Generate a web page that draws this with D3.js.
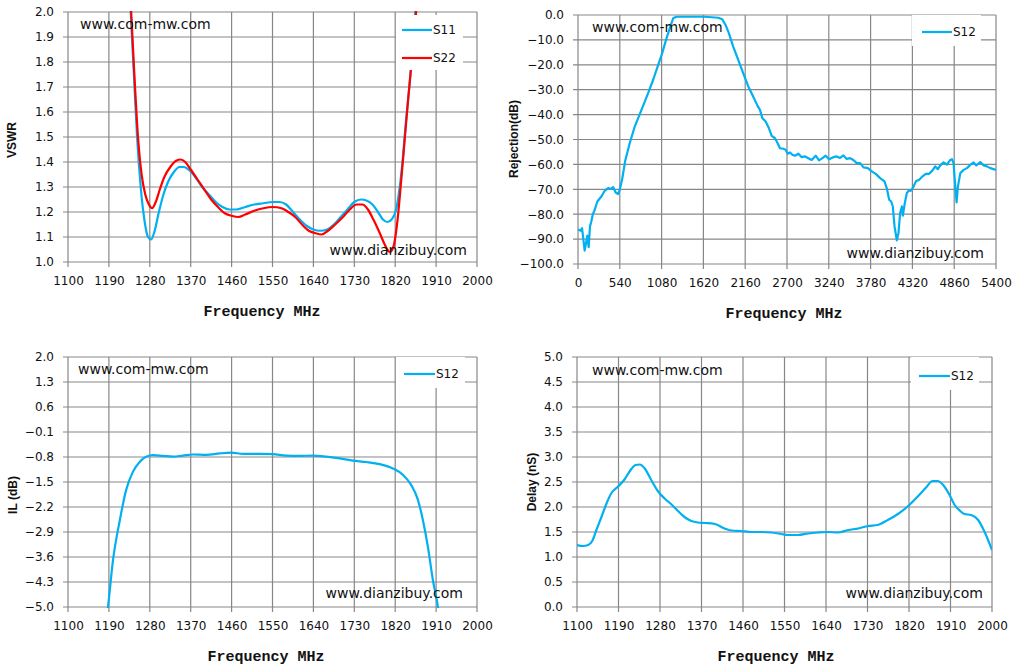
<!DOCTYPE html>
<html>
  <head>
    <meta charset="utf-8">
    <script src="https://d3js.org/d3.v7.min.js"></script>
    <title>Filter response</title>
    <style>
      body { margin: 0; background: #fff; }
      .tick text { font-family: "DejaVu Sans", sans-serif; font-size: 12px; fill: #111; }
      .grid line { stroke: #878787; stroke-width: 1.2; }
      .mark { font-family: "DejaVu Sans", sans-serif; font-size: 14px; fill: #111; }
      .ytitle { font-family: "Liberation Sans", Arial, sans-serif; font-size: 12px; font-weight: bold; fill: #111; }
      .xtitle { font-family: "Liberation Mono", monospace; font-size: 15px; font-weight: bold; fill: #111; }
      .leg { font-family: "DejaVu Sans", sans-serif; font-size: 12px; fill: #111; }
    </style>
  </head>
  <body>
    <div id="chart"></div>
    <script>
      // ---- data ----
      const bandTicks = [1100, 1190, 1280, 1370, 1460, 1550, 1640, 1730, 1820, 1910, 2000];
      const wideTicks = [0, 540, 1080, 1620, 2160, 2700, 3240, 3780, 4320, 4860, 5400];
      const vswrTicks = [1.0, 1.1, 1.2, 1.3, 1.4, 1.5, 1.6, 1.7, 1.8, 1.9, 2.0];
      const rejTicks = [0, -10, -20, -30, -40, -50, -60, -70, -80, -90, -100];
      const ilTicks = [2.0, 1.3, 0.6, -0.1, -0.8, -1.5, -2.2, -2.9, -3.6, -4.3, -5.0];
      const delayTicks = [0, 0.5, 1.0, 1.5, 2.0, 2.5, 3.0, 3.5, 4.0, 4.5, 5.0];

      // VSWR, S11
      const s11Freq = [1232, 1238, 1245, 1252, 1260, 1268, 1276, 1283, 1290, 1300, 1310, 1320, 1333, 1345, 1355, 1365,
        1380, 1395, 1410, 1425, 1440, 1455, 1470, 1490, 1510, 1530, 1550, 1565, 1580, 1595, 1610, 1625, 1640, 1655,
        1670, 1685, 1700, 1715, 1730, 1745, 1758, 1770, 1782, 1793, 1803, 1812, 1822, 1830, 1837, 1843, 1850, 1857,
        1864, 1870];
      const s11Vswr = [2.2, 2.0, 1.75, 1.5, 1.3, 1.17, 1.10, 1.09, 1.12, 1.20, 1.27, 1.32, 1.36, 1.38, 1.38, 1.37,
        1.34, 1.30, 1.27, 1.24, 1.22, 1.21, 1.21, 1.22, 1.23, 1.235, 1.24, 1.24, 1.23, 1.20, 1.17, 1.145, 1.13, 1.125,
        1.13, 1.15, 1.18, 1.21, 1.24, 1.25, 1.245, 1.23, 1.20, 1.17, 1.16, 1.17, 1.21, 1.30, 1.42, 1.55, 1.68, 1.82,
        2.0, 2.2];
      // VSWR, S22
      const s22Freq = [1234, 1239, 1246, 1254, 1262, 1270, 1278, 1285, 1293, 1302, 1312, 1325, 1338, 1348, 1358, 1370,
        1385, 1400, 1415, 1430, 1445, 1460, 1475, 1490, 1510, 1530, 1550, 1570, 1585, 1600, 1615, 1630, 1645, 1658,
        1672, 1688, 1705, 1720, 1735, 1748, 1760, 1772, 1785, 1797, 1808, 1816, 1824, 1832, 1840, 1848, 1856, 1866,
        1872];
      const s22Vswr = [2.2, 2.0, 1.75, 1.5, 1.35, 1.27, 1.23, 1.215, 1.24, 1.29, 1.34, 1.38, 1.405, 1.41, 1.40, 1.37,
        1.33, 1.29, 1.25, 1.22, 1.195, 1.185, 1.18, 1.19, 1.205, 1.215, 1.22, 1.215, 1.20, 1.18, 1.15, 1.125, 1.115, 1.11,
        1.125, 1.15, 1.18, 1.21, 1.23, 1.23, 1.21, 1.17, 1.12, 1.07, 1.04, 1.06, 1.15, 1.30, 1.47, 1.64, 1.80, 2.0,
        2.2];

      // Rejection, wide span
      const rejFreq = [0, 35, 52, 69, 86, 104, 121, 138, 155, 172, 190, 216, 250, 302, 345, 388, 431, 453, 487, 518,
        539, 569, 612, 668, 733, 820, 906, 970, 1035, 1087, 1143, 1186, 1229, 1272, 1380, 1639, 1811, 1863, 1906,
        1950, 2005, 2070, 2135, 2200, 2264, 2320, 2351, 2381, 2424, 2467, 2502, 2545, 2579, 2609, 2652, 2683, 2709,
        2739, 2769, 2803, 2847, 2890, 2933, 2976, 3019, 3071, 3114, 3157, 3200, 3243, 3299, 3343, 3386, 3429, 3472,
        3515, 3558, 3601, 3645, 3688, 3744, 3795, 3847, 3903, 3959, 3989, 4020, 4045, 4067, 4089, 4119, 4140, 4162,
        4184, 4197, 4218, 4248, 4270, 4304, 4335, 4365, 4408, 4451, 4494, 4537, 4580, 4615, 4649, 4680, 4723, 4766,
        4809, 4831, 4852, 4874, 4891, 4908, 4939, 4982, 5025, 5068, 5111, 5146, 5197, 5240, 5283, 5326, 5400];
      const rejDb = [-86.2, -86.6, -85.6, -90, -94.6, -91.6, -88.6, -93.2, -84.9, -82.9, -80.2, -78.2, -74.9, -72.9,
        -70.6, -69.5, -69.9, -69.1, -71.3, -71.9, -70.2, -66.2, -58.2, -51.5, -44.8, -38.1, -31.4, -26.1, -20.1, -15.4,
        -9.4, -5.3, -1.3, -0.7, -0.7, -0.7, -1.1, -1.7, -4.0, -7.4, -12.7, -18, -23.4, -28.7, -32.8, -36.5, -38.1,
        -41.4, -42.8, -45.5, -48.5, -49.5, -51.5, -53.5, -53.7, -54.1, -55.7, -55.2, -56.1, -56.5, -55.7, -57.1,
        -56.8, -57.5, -58.2, -56.5, -58.4, -57.5, -56.5, -57.9, -57.1, -56.8, -57.4, -56.4, -57.8, -57.5, -58.2,
        -59.5, -59.5, -61.2, -61.5, -62.8, -63.8, -65.5, -66.8, -69.5, -74.2, -74.9, -76.9, -84.9, -90.5, -87.6,
        -79.4, -76.9, -80.6, -76.2, -71.5, -70.6, -70.5, -68.9, -66.8, -66.2, -64.8, -63.8, -63.8, -62.4, -60.8,
        -61.9, -60.4, -59.2, -60.1, -58.2, -57.9, -59.5, -68.9, -75.3, -68.9, -63.5, -62.2, -61.5, -60.2, -59.2,
        -60.4, -59.1, -60.4, -60.8, -61.5, -62.2];

      // Insertion loss
      const ilFreq = [1185, 1188, 1199, 1214, 1228, 1243, 1258, 1272, 1287, 1309, 1331, 1353, 1375, 1404, 1434, 1459,
        1485, 1522, 1551, 1580, 1610, 1639, 1668, 1698, 1727, 1756, 1786, 1815, 1837, 1855, 1870, 1881, 1892, 1903,
        1914, 1917];
      const ilDb = [-5.3, -5.0, -3.69, -2.57, -1.72, -1.21, -0.93, -0.79, -0.75, -0.77, -0.79, -0.76, -0.73, -0.74,
        -0.70, -0.68, -0.71, -0.71, -0.72, -0.76, -0.77, -0.76, -0.79, -0.84, -0.90, -0.94, -1.0, -1.12, -1.30, -1.58,
        -2.0, -2.57, -3.32, -4.25, -5.0, -5.3];

      // Group delay
      const delayFreq = [1100, 1113, 1124, 1133, 1142, 1153, 1164, 1174, 1189, 1203, 1214, 1227, 1236, 1247, 1261,
        1276, 1290, 1305, 1319, 1333, 1348, 1362, 1377, 1399, 1420, 1435, 1456, 1478, 1500, 1521, 1543, 1557, 1579,
        1601, 1623, 1644, 1666, 1688, 1710, 1731, 1752, 1774, 1796, 1817, 1839, 1857, 1871, 1882, 1895, 1908, 1919,
        1930, 1940, 1955, 1970, 1984, 2000];
      const delayNs = [1.24, 1.22, 1.24, 1.32, 1.54, 1.80, 2.07, 2.27, 2.41, 2.55, 2.71, 2.84, 2.85, 2.77, 2.54, 2.31,
        2.17, 2.05, 1.92, 1.80, 1.72, 1.69, 1.68, 1.66, 1.57, 1.53, 1.52, 1.50, 1.50, 1.49, 1.46, 1.44, 1.44, 1.47,
        1.49, 1.50, 1.49, 1.54, 1.57, 1.62, 1.64, 1.74, 1.86, 2.01, 2.21, 2.39, 2.52, 2.52, 2.43, 2.24, 2.04, 1.93,
        1.86, 1.84, 1.74, 1.50, 1.14];

      const BLUE = "#00b0f0";
      const RED = "#ff0000";

      const svg = d3.select("#chart").append("svg")
        .attr("width", 1018)
        .attr("height", 672);

      const panels = [
        {
          box: { l: 68, r: 477, t: 12, b: 262 },
          xDomain: [1100, 2000], xTicks: bandTicks,
          yDomain: [1.0, 2.0], yTicks: vswrTicks, yFmt: d3.format(".1f"),
          yTitle: "VSWR", yTitleAt: [12, 140], xTitleX: 262,
          series: [
            { name: "S11", x: s11Freq, y: s11Vswr, color: BLUE, curve: d3.curveMonotoneX },
            { name: "S22", x: s22Freq, y: s22Vswr, color: RED, curve: d3.curveMonotoneX }
          ],
          legend: { l: 396, r: 463, t: 15, b: 70, x1: 402, x2: 432, rows: [30, 58] },
          marks: { top: [80, 24], bottom: [467, 250] }
        },
        {
          box: { l: 578, r: 996, t: 15, b: 264 },
          xDomain: [0, 5400], xTicks: wideTicks,
          yDomain: [-100, 0], yTicks: rejTicks, yFmt: d3.format(".1f"),
          yTitle: "Rejection(dB)", yTitleAt: [514, 139], xTitleX: 784,
          series: [
            { name: "S12", x: rejFreq, y: rejDb, color: BLUE, curve: d3.curveLinear }
          ],
          legend: { l: 912, r: 981, t: 15, b: 46, x1: 922, x2: 952, rows: [32] },
          marks: { top: [592, 27], bottom: [984, 253] }
        },
        {
          box: { l: 68, r: 477, t: 357, b: 607 },
          xDomain: [1100, 2000], xTicks: bandTicks,
          yDomain: [-5.0, 2.0], yTicks: ilTicks, yFmt: d3.format(".1f"),
          yTitle: "IL (dB)", yTitleAt: [13, 495], xTitleX: 266,
          series: [
            { name: "S12", x: ilFreq, y: ilDb, color: BLUE, curve: d3.curveMonotoneX }
          ],
          legend: { l: 396, r: 465, t: 357, b: 388, x1: 404, x2: 435, rows: [374] },
          marks: { top: [78, 369], bottom: [463, 593] }
        },
        {
          box: { l: 577, r: 992, t: 357, b: 607 },
          xDomain: [1100, 2000], xTicks: bandTicks,
          yDomain: [0, 5.0], yTicks: delayTicks, yFmt: d3.format(".1f"),
          yTitle: "Delay (nS)", yTitleAt: [532, 482], xTitleX: 776,
          series: [
            { name: "S12", x: delayFreq, y: delayNs, color: BLUE, curve: d3.curveMonotoneX }
          ],
          legend: { l: 911, r: 979, t: 357, b: 390, x1: 919, x2: 950, rows: [376] },
          marks: { top: [592, 370], bottom: [983, 593] }
        }
      ];

      panels.forEach((p, i) => {
        const b = p.box;
        const x = d3.scaleLinear().domain(p.xDomain).range([b.l, b.r]);
        const y = d3.scaleLinear().domain(p.yDomain).range([b.b, b.t]);
        const g = svg.append("g");

        // grid
        const grid = g.append("g").attr("class", "grid");
        grid.selectAll(".v").data(p.xTicks).join("line")
          .attr("x1", (d) => x(d)).attr("x2", (d) => x(d))
          .attr("y1", b.t).attr("y2", b.b + 5);
        grid.selectAll(".h").data(p.yTicks).join("line")
          .attr("x1", b.l - 5).attr("x2", b.r)
          .attr("y1", (d) => y(d)).attr("y2", (d) => y(d));

        // tick labels via axes (no domain, no tick lines)
        const ax = g.append("g")
          .attr("transform", `translate(0,${b.b})`)
          .call(d3.axisBottom(x).tickValues(p.xTicks).tickFormat(d3.format("d")).tickSize(0).tickPadding(14));
        ax.select(".domain").remove();
        const ay = g.append("g")
          .attr("transform", `translate(${b.l},0)`)
          .call(d3.axisLeft(y).tickValues(p.yTicks).tickFormat(p.yFmt).tickSize(0).tickPadding(14));
        ay.select(".domain").remove();

        // curves
        const clipId = "clip" + i;
        g.append("clipPath").attr("id", clipId).append("rect")
          .attr("x", b.l).attr("y", b.t - 1)
          .attr("width", b.r - b.l).attr("height", b.b - b.t + 2);
        const plot = g.append("g").attr("clip-path", `url(#${clipId})`);
        p.series.forEach((s) => {
          const pts = s.x.map((f, k) => [f, s.y[k]]);
          plot.append("path")
            .datum(pts)
            .attr("fill", "none")
            .attr("stroke", s.color)
            .attr("stroke-width", 2.2)
            .attr("stroke-linejoin", "round")
            .attr("d", d3.line().curve(s.curve).x((d) => x(d[0])).y((d) => y(d[1])));
        });

        // legend
        const lg = p.legend;
        g.append("rect")
          .attr("x", lg.l).attr("y", lg.t)
          .attr("width", lg.r - lg.l).attr("height", lg.b - lg.t)
          .attr("fill", "#fff");
        p.series.forEach((s, k) => {
          g.append("line")
            .attr("x1", lg.x1).attr("x2", lg.x2)
            .attr("y1", lg.rows[k]).attr("y2", lg.rows[k])
            .attr("stroke", s.color).attr("stroke-width", 2.2);
          g.append("text").attr("class", "leg")
            .attr("x", lg.x2 + 1).attr("y", lg.rows[k])
            .attr("dy", "0.35em")
            .text(s.name);
        });

        // watermarks
        g.append("text").attr("class", "mark")
          .attr("x", p.marks.top[0]).attr("y", p.marks.top[1])
          .attr("dy", "0.35em")
          .text("www.com-mw.com");
        g.append("text").attr("class", "mark")
          .attr("x", p.marks.bottom[0]).attr("y", p.marks.bottom[1])
          .attr("dy", "0.35em").attr("text-anchor", "end")
          .text("www.dianzibuy.com");

        // titles
        g.append("text").attr("class", "ytitle")
          .attr("transform", `translate(${p.yTitleAt[0]},${p.yTitleAt[1]}) rotate(-90)`)
          .attr("text-anchor", "middle").attr("dy", "0.35em")
          .text(p.yTitle);
        g.append("text").attr("class", "xtitle")
          .attr("x", p.xTitleX).attr("y", b.b + 49)
          .attr("text-anchor", "middle").attr("dy", "0.35em")
          .text("Frequency MHz");
      });
    </script>
  </body>
</html>
